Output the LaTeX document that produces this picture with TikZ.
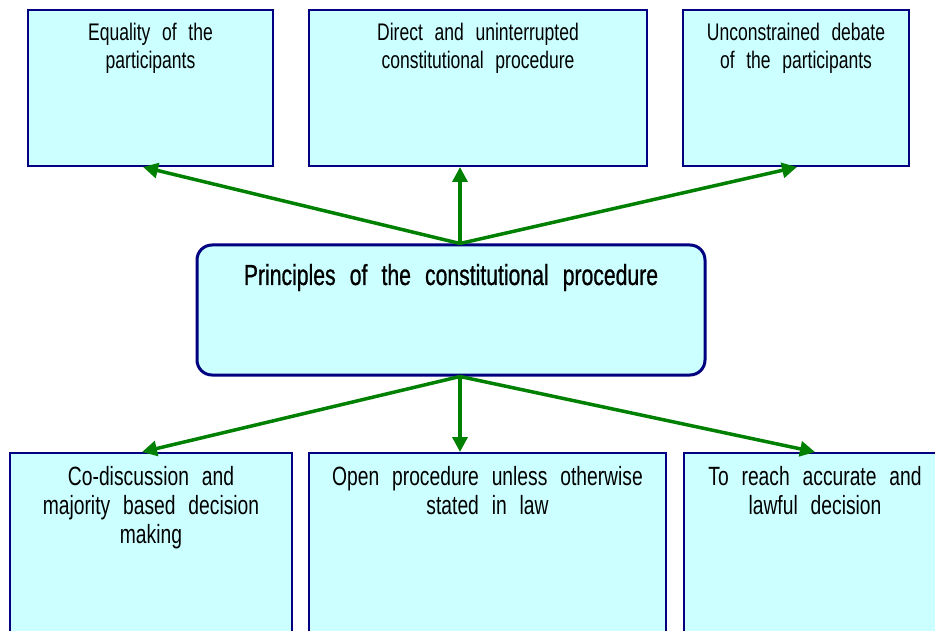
\documentclass[tikz,border=0pt]{standalone}
\usepackage{fontspec}
\setmainfont{Liberation Sans}[FakeStretch=0.73, WordSpace=2.4]
\newfontfamily\headfont{Liberation Sans}[FakeStretch=0.73, WordSpace=2.4, FakeBold=0.8]
\usetikzlibrary{arrows.meta}
\definecolor{boxfill}{RGB}{204,255,255}
\definecolor{boxline}{RGB}{0,0,128}
\definecolor{linkgreen}{RGB}{0,128,0}

\begin{document}
\begin{tikzpicture}[x=1pt, y=-1pt,
  pbox/.style={draw=boxline, fill=boxfill, line width=2pt, inner sep=0pt},
  hub/.style={pbox, line width=3pt, rounded corners=15pt},
  ptext/.style={anchor=north, inner sep=0pt, align=center,
                font=\fontsize{24}{28.2}\selectfont, text=black},
  ltext/.style={ptext, font=\fontsize{26.4}{29.2}\selectfont},
  link/.style={draw=linkgreen, line width=3.5pt,
               -{Triangle[length=15pt, width=15pt]}},
]
\useasboundingbox (0,0) rectangle (935,631);
\clip (0,0) rectangle (935,631);

% upper row of principles
\node[pbox, minimum width=245pt, minimum height=156pt] (equal) at (150.5,88) {};
\node[pbox, minimum width=338pt, minimum height=156pt] (direct) at (478,88) {};
\node[pbox, minimum width=226pt, minimum height=156pt] (debate) at (796,88) {};

\node[ptext] (equalT)  at (150.5,23) {Equality of the\\participants};
\node[ptext] (directT) at (478,23)   {Direct and uninterrupted\\constitutional procedure};
\node[ptext] (debateT) at (796,23)   {Unconstrained debate\\of the participants};

% central heading
\node[hub, minimum width=508pt, minimum height=130pt] (hub) at (451,310) {};
\node[anchor=base, inner sep=0pt, font=\headfont\fontsize{29}{34}\selectfont] (hubT) at (451,285)
  {Principles of the constitutional procedure};

% lower row of principles (running past the page edge)
\node[pbox, minimum width=282pt, minimum height=210pt] (codis) at (151,558) {};
\node[pbox, minimum width=357pt, minimum height=210pt] (open)  at (487.5,558) {};
\node[pbox, minimum width=262pt, minimum height=210pt] (reach) at (815,558) {};

\node[ltext] (codisT) at (151,466)   {Co-discussion and\\majority based decision\\making};
\node[ltext] (openT)  at (487.5,466) {Open procedure unless otherwise\\stated in law};
\node[ltext] (reachT) at (815,466)   {To reach accurate and\\lawful decision};

% connectors
\coordinate (up)   at ([xshift=9pt]hub.north);
\coordinate (down) at ([xshift=9pt]hub.south);

\draw[link] (up) -- ([xshift=-7.5pt]equal.south);
\draw[link] (up) -- (up |- direct.south);
\draw[link] (up) -- ([xshift=1pt]debate.south);

\draw[link] (down) -- ([xshift=-9pt]codis.north);
\draw[link] (down) -- (down |- open.north);
\draw[link] (down) -- (reach.north);
\end{tikzpicture}
\end{document}
